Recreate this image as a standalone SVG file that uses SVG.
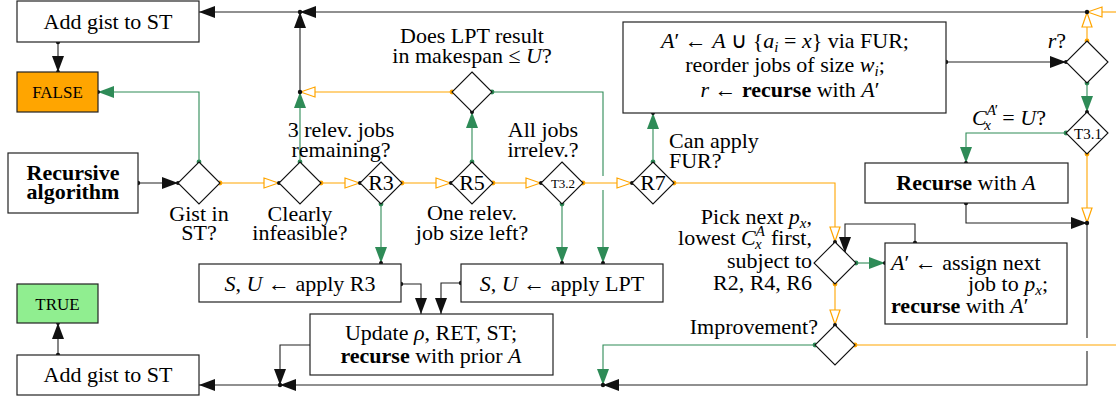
<svg xmlns="http://www.w3.org/2000/svg" width="1116" height="398" viewBox="0 0 1116 398">
<defs>
<marker id="ak" viewBox="0 0 16 12" refX="16" refY="6" markerWidth="16" markerHeight="12" markerUnits="userSpaceOnUse" orient="auto"><path d="M0,0 L16,6 L0,12 z" fill="#111"/></marker>
<marker id="ag" viewBox="0 0 16 12" refX="16" refY="6" markerWidth="16" markerHeight="12" markerUnits="userSpaceOnUse" orient="auto"><path d="M0,0 L16,6 L0,12 z" fill="#2E8B57"/></marker>
<marker id="ao" viewBox="0 0 17 12" refX="16" refY="6" markerWidth="17" markerHeight="12" markerUnits="userSpaceOnUse" orient="auto"><path d="M1,1 L15.5,6 L1,11 z" fill="#fff" stroke="#FFA500" stroke-width="1.2"/></marker>
</defs>
<rect x="0" y="0" width="1116" height="398" fill="#fff"/>

<g id="connectors">
<g fill="none" stroke="#222" stroke-width="1.1" marker-end="url(#ak)">
<path d="M58,42 V72"/>
<path d="M300,12 H199"/>
<path d="M1087,12 H300"/>
<path d="M300,92 V12"/>
<path d="M138,183 H178"/>
<path d="M946,62 H1066"/>
<path d="M966,203 V223 H1087"/>
<path d="M1087,351 V385 H603"/>
<path d="M915,243 V224 H845 V253"/>
<path d="M603,385 H280"/>
<path d="M280,385 H199"/>
<path d="M310,345 H280 V385"/>
<path d="M401,284 H421 V314"/>
<path d="M461,283 H441 V314"/>
<path d="M58,355 V323"/>
</g>
<path d="M1087,223 V338" fill="none" stroke="#222" stroke-width="1.1"/>
<g fill="none" stroke="#FFA500" stroke-width="1.1" marker-end="url(#ao)">
<path d="M452,92 H300"/>
<path d="M220,183 H279"/>
<path d="M321,183 H360"/>
<path d="M402,183 H451"/>
<path d="M493,183 H541"/>
<path d="M583,183 H632"/>
<path d="M674,183 H835 V242"/>
<path d="M1087,41 V12"/>
<path d="M1116,12 H1087"/>
<path d="M1087,154 V223"/>
<path d="M835,284 V325"/>
</g>
<path d="M855,345 H1116" fill="none" stroke="#FFA500" stroke-width="1.1"/>
<g fill="none" stroke="#2E8B57" stroke-width="1.1" marker-end="url(#ag)">
<path d="M300,162 V92"/>
<path d="M199,162 V92 H98"/>
<path d="M381,204 V263"/>
<path d="M472,162 V112"/>
<path d="M562,204 V263"/>
<path d="M603,190 V263"/>
<path d="M653,162 V113"/>
<path d="M1087,83 V112"/>
<path d="M1066,133 H966 V163"/>
<path d="M856,263 H885"/>
<path d="M815,345 H603 V385"/>
</g>
<path d="M492,92 H603 V176" fill="none" stroke="#2E8B57" stroke-width="1.1"/>
<g fill="#111">
<circle cx="58" cy="42" r="2.2"/><circle cx="300" cy="12" r="2.2"/><circle cx="300" cy="92" r="2.2"/><circle cx="1087" cy="12" r="2.2"/>
<circle cx="138" cy="183" r="2.2"/><circle cx="178" cy="183" r="2"/><circle cx="279" cy="183" r="2"/><circle cx="360" cy="183" r="2"/>
<circle cx="451" cy="183" r="2"/><circle cx="541" cy="183" r="2"/><circle cx="632" cy="183" r="2"/><circle cx="835" cy="242" r="2"/>
<circle cx="472" cy="112" r="2"/><circle cx="381" cy="263" r="2"/><circle cx="562" cy="263" r="2"/><circle cx="603" cy="263" r="2"/><circle cx="653" cy="113" r="2"/>
<circle cx="946" cy="62" r="2.2"/><circle cx="1066" cy="62" r="2"/><circle cx="1087" cy="112" r="2"/><circle cx="966" cy="163" r="2"/>
<circle cx="966" cy="203" r="2.2"/><circle cx="1087" cy="223" r="2.2"/><circle cx="885" cy="263" r="2"/><circle cx="915" cy="243" r="2.2"/>
<circle cx="835" cy="325" r="2"/><circle cx="603" cy="385" r="2.2"/><circle cx="280" cy="385" r="2.2"/><circle cx="401" cy="284" r="2.2"/><circle cx="461" cy="283" r="2.2"/>
<circle cx="98" cy="92" r="2"/><circle cx="58" cy="355" r="2.2"/><circle cx="58" cy="323" r="2"/><circle cx="58" cy="72" r="2"/>
</g>
<g fill="#FFA500">
<circle cx="220" cy="183" r="2.4"/><circle cx="321" cy="183" r="2.4"/><circle cx="402" cy="183" r="2.4"/><circle cx="493" cy="183" r="2.4"/>
<circle cx="583" cy="183" r="2.4"/><circle cx="674" cy="183" r="2.4"/><circle cx="452" cy="92" r="2.4"/><circle cx="1087" cy="41" r="2.4"/>
<circle cx="1087" cy="154" r="2.4"/><circle cx="835" cy="284" r="2.4"/><circle cx="855" cy="345" r="2.4"/>
</g>
<g fill="#2E8B57">
<circle cx="199" cy="162" r="2.4"/><circle cx="300" cy="162" r="2.4"/><circle cx="381" cy="204" r="2.4"/><circle cx="472" cy="162" r="2.4"/>
<circle cx="562" cy="204" r="2.4"/><circle cx="492" cy="92" r="2.4"/><circle cx="653" cy="162" r="2.4"/><circle cx="1087" cy="83" r="2.4"/>
<circle cx="1066" cy="133" r="2.4"/><circle cx="856" cy="263" r="2.4"/><circle cx="815" cy="345" r="2.4"/>
</g>
</g>

<g id="add-gist-top"><rect x="17" y="1" width="182" height="41" fill="#fff" stroke="#222" stroke-width="1.2"/><text font-family="Liberation Serif" font-size="22" text-anchor="middle" x="108" y="29">Add gist to ST</text></g>
<g id="false"><rect x="17" y="72" width="81" height="40" fill="#FFA500" stroke="#222" stroke-width="1.2"/><text font-family="Liberation Serif" font-size="17" text-anchor="middle" x="57.5" y="98">FALSE</text></g>
<g id="recursive"><rect x="8" y="153" width="130" height="60" fill="#fff" stroke="#222" stroke-width="1.2"/><text font-family="Liberation Serif" font-size="22" font-weight="bold" text-anchor="middle" x="73" y="180">Recursive</text><text font-family="Liberation Serif" font-size="22" font-weight="bold" text-anchor="middle" x="73" y="199">algorithm</text></g>
<g id="gist-in-st"><polygon points="199,162 220,183 199,204 178,183" fill="#fff" stroke="#111" stroke-width="1.1"/><text font-family="Liberation Serif" font-size="22" text-anchor="middle" x="199" y="221">Gist in</text><text font-family="Liberation Serif" font-size="22" text-anchor="middle" x="199" y="240">ST?</text></g>
<g id="clearly-infeasible"><polygon points="300,162 321,183 300,204 279,183" fill="#fff" stroke="#111" stroke-width="1.1"/><text font-family="Liberation Serif" font-size="22" text-anchor="middle" x="300" y="221">Clearly</text><text font-family="Liberation Serif" font-size="22" text-anchor="middle" x="300" y="240">infeasible?</text></g>
<g id="r3"><polygon points="381,162 402,183 381,204 360,183" fill="#fff" stroke="#111" stroke-width="1.1"/><text font-family="Liberation Serif" font-size="22" text-anchor="middle" x="381" y="190">R3</text><text font-family="Liberation Serif" font-size="22" text-anchor="middle" x="341" y="137">3 relev. jobs</text><text font-family="Liberation Serif" font-size="22" text-anchor="middle" x="341" y="157">remaining?</text></g>
<g id="r5"><polygon points="472,162 493,183 472,204 451,183" fill="#fff" stroke="#111" stroke-width="1.1"/><text font-family="Liberation Serif" font-size="22" text-anchor="middle" x="472" y="190">R5</text><text font-family="Liberation Serif" font-size="22" text-anchor="middle" x="472" y="220">One relev.</text><text font-family="Liberation Serif" font-size="22" text-anchor="middle" x="472" y="240">job size left?</text></g>
<g id="t32"><polygon points="562,162 583,183 562,204 541,183" fill="#fff" stroke="#111" stroke-width="1.1"/><text font-family="Liberation Serif" font-size="13" text-anchor="middle" x="563" y="188">T3.2</text><text font-family="Liberation Serif" font-size="22" text-anchor="middle" x="543" y="137">All jobs</text><text font-family="Liberation Serif" font-size="22" text-anchor="middle" x="543" y="157">irrelev.?</text></g>
<g id="r7"><polygon points="653,162 674,183 653,204 632,183" fill="#fff" stroke="#111" stroke-width="1.1"/><text font-family="Liberation Serif" font-size="22" text-anchor="middle" x="653" y="190">R7</text><text font-family="Liberation Serif" font-size="22" x="669" y="148">Can apply</text><text font-family="Liberation Serif" font-size="22" x="669" y="168">FUR?</text></g>
<g id="lpt-check"><polygon points="472,72 492,92 472,112 452,92" fill="#fff" stroke="#111" stroke-width="1.1"/><text font-family="Liberation Serif" font-size="22" text-anchor="middle" x="472" y="43">Does LPT result</text><text font-family="Liberation Serif" font-size="22" text-anchor="middle" x="472" y="63">in makespan ≤ <tspan font-style="italic">U</tspan>?</text></g>
<g id="fur"><rect x="623" y="22" width="323" height="91" fill="#fff" stroke="#222" stroke-width="1.2"/>
<text font-family="Liberation Serif" font-size="22" text-anchor="middle" x="785" y="48"><tspan font-style="italic">A</tspan>′ ← <tspan font-style="italic">A</tspan> ∪ {<tspan font-style="italic">a</tspan><tspan font-style="italic" font-size="15" dy="4">i</tspan><tspan dy="-4"> = </tspan><tspan font-style="italic">x</tspan>} via FUR;</text>
<text font-family="Liberation Serif" font-size="22" text-anchor="middle" x="785" y="72">reorder jobs of size <tspan font-style="italic">w</tspan><tspan font-style="italic" font-size="15" dy="4">i</tspan><tspan dy="-4">;</tspan></text>
<text font-family="Liberation Serif" font-size="22" text-anchor="middle" x="790" y="97"><tspan font-style="italic">r</tspan> ← <tspan font-weight="bold">recurse</tspan> with <tspan font-style="italic">A</tspan>′</text></g>
<g id="r-check"><polygon points="1087,41 1108,62 1087,83 1066,62" fill="#fff" stroke="#111" stroke-width="1.1"/><text font-family="Liberation Serif" font-size="22" text-anchor="end" x="1066" y="48"><tspan font-style="italic">r</tspan>?</text></g>
<g id="t31"><polygon points="1087,112 1108,133 1087,154 1066,133" fill="#fff" stroke="#111" stroke-width="1.1"/><text font-family="Liberation Serif" font-size="15" text-anchor="middle" x="1088" y="139">T3.1</text>
<text font-family="Liberation Serif" font-size="22" x="972" y="125"><tspan font-style="italic">C</tspan><tspan font-style="italic" font-size="15" dy="-10">A</tspan><tspan font-size="15" dx="-1">′</tspan><tspan font-style="italic" font-size="15" dx="-14" dy="15">x</tspan><tspan dx="6" dy="-5"> = </tspan><tspan font-style="italic">U</tspan>?</text></g>
<g id="recurse-a"><rect x="865" y="163" width="203" height="40" fill="#fff" stroke="#222" stroke-width="1.2"/><text font-family="Liberation Serif" font-size="22" text-anchor="middle" x="966" y="190"><tspan font-weight="bold">Recurse</tspan> with <tspan font-style="italic">A</tspan></text></g>
<g id="pick"><polygon points="835,242 856,263 835,284 814,263" fill="#fff" stroke="#111" stroke-width="1.1"/>
<text font-family="Liberation Serif" font-size="22" text-anchor="end" x="812" y="224">Pick next <tspan font-style="italic">p</tspan><tspan font-style="italic" font-size="15" dy="4">x</tspan><tspan dy="-4">,</tspan></text>
<text font-family="Liberation Serif" font-size="22" text-anchor="end" x="812" y="245">lowest <tspan font-style="italic">C</tspan><tspan font-style="italic" font-size="15" dy="-9">A</tspan><tspan font-style="italic" font-size="15" dx="-10" dy="13">x</tspan><tspan dx="4" dy="-4"> first,</tspan></text>
<text font-family="Liberation Serif" font-size="22" text-anchor="end" x="812" y="268">subject to</text>
<text font-family="Liberation Serif" font-size="22" text-anchor="end" x="812" y="290">R2, R4, R6</text></g>
<g id="assign"><rect x="885" y="243" width="182" height="81" fill="#fff" stroke="#222" stroke-width="1.2"/>
<text font-family="Liberation Serif" font-size="22" x="891" y="270"><tspan font-style="italic">A</tspan>′ ← assign next</text>
<text font-family="Liberation Serif" font-size="22" text-anchor="end" x="1048" y="291">job to <tspan font-style="italic">p</tspan><tspan font-style="italic" font-size="15" dy="4">x</tspan><tspan dy="-4">;</tspan></text>
<text font-family="Liberation Serif" font-size="22" x="891" y="313"><tspan font-weight="bold">recurse</tspan> with <tspan font-style="italic">A</tspan>′</text></g>
<g id="improvement"><polygon points="835,325 855,345 835,365 815,345" fill="#fff" stroke="#111" stroke-width="1.1"/><text font-family="Liberation Serif" font-size="22" text-anchor="end" x="818" y="334">Improvement?</text></g>
<g id="apply-r3"><rect x="199" y="264" width="202" height="38" fill="#fff" stroke="#222" stroke-width="1.2"/><text font-family="Liberation Serif" font-size="22" text-anchor="middle" x="300" y="291"><tspan font-style="italic">S</tspan>, <tspan font-style="italic">U</tspan> ← apply R3</text></g>
<g id="apply-lpt"><rect x="461" y="264" width="202" height="38" fill="#fff" stroke="#222" stroke-width="1.2"/><text font-family="Liberation Serif" font-size="22" text-anchor="middle" x="562" y="291"><tspan font-style="italic">S</tspan>, <tspan font-style="italic">U</tspan> ← apply LPT</text></g>
<g id="update"><rect x="310" y="314" width="243" height="61" fill="#fff" stroke="#222" stroke-width="1.2"/><text font-family="Liberation Serif" font-size="22" text-anchor="middle" x="431" y="340">Update <tspan font-style="italic">ρ</tspan>, RET, ST;</text><text font-family="Liberation Serif" font-size="22" text-anchor="middle" x="431" y="363"><tspan font-weight="bold">recurse</tspan> with prior <tspan font-style="italic">A</tspan></text></g>
<g id="true"><rect x="17" y="284" width="81" height="39" fill="#90EE90" stroke="#222" stroke-width="1.2"/><text font-family="Liberation Serif" font-size="17" text-anchor="middle" x="57.5" y="310">TRUE</text></g>
<g id="add-gist-bottom"><rect x="17" y="355" width="182" height="40" fill="#fff" stroke="#222" stroke-width="1.2"/><text font-family="Liberation Serif" font-size="22" text-anchor="middle" x="108" y="382">Add gist to ST</text></g>
</svg>
